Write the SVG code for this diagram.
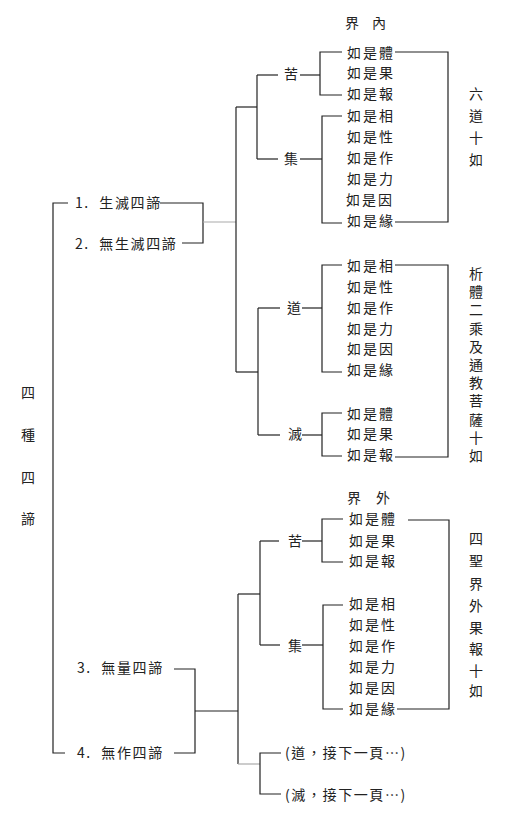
<svg xmlns="http://www.w3.org/2000/svg" width="516" height="822" viewBox="0 0 516 822">
<style>
text{font-family:"Noto Sans CJK TC","Noto Sans CJK SC",sans-serif;font-size:14px;fill:#222;dominant-baseline:central}
.e{letter-spacing:2px}
.l{letter-spacing:1.6px}
.v{text-anchor:middle}
.s{font-size:12.4px}
.c line,.c polyline{stroke:#222;stroke-width:1.2;fill:none}
.c .f{stroke:#aaa}
</style>
<rect width="516" height="822" fill="#fff"/>
<g id="title">
<text class="v" x="28" y="392">四</text>
<text class="v" x="28" y="434">種</text>
<text class="v" x="28" y="477">四</text>
<text class="v" x="28" y="518">諦</text>
</g>
<g id="n1"><text class="l" x="75" y="202" xml:space="preserve">1.  生滅四諦</text></g>
<g id="n2"><text class="l" x="75" y="243" xml:space="preserve">2.  無生滅四諦</text></g>
<g id="n3"><text class="l" x="77" y="667" xml:space="preserve">3.  無量四諦</text></g>
<g id="n4"><text class="l" x="77" y="752" xml:space="preserve">4.  無作四諦</text></g>

<g id="jienei"><text y="22"><tspan x="345">界</tspan><tspan x="372">內</tspan></text></g>
<g id="ku1"><text x="284" y="73">苦</text></g>
<g id="ji1"><text x="284" y="158">集</text></g>
<g id="dao1"><text x="287" y="307">道</text></g>
<g id="mie1"><text x="288" y="433">滅</text></g>
<g id="top-items" class="e">
<text x="347" y="52">如是體</text>
<text x="347" y="72">如是果</text>
<text x="347" y="93">如是報</text>
<text x="347" y="115">如是相</text>
<text x="347" y="136">如是性</text>
<text x="347" y="157">如是作</text>
<text x="347" y="178">如是力</text>
<text x="346" y="199">如是因</text>
<text x="347" y="220">如是緣</text>
</g>
<g id="mid-items" class="e">
<text x="347" y="265">如是相</text>
<text x="347" y="286">如是性</text>
<text x="347" y="307">如是作</text>
<text x="347" y="328">如是力</text>
<text x="347" y="348">如是因</text>
<text x="347" y="369">如是緣</text>
<text x="347" y="413">如是體</text>
<text x="347" y="433">如是果</text>
<text x="347" y="454">如是報</text>
</g>
<g id="liudao">
<text class="v" x="476" y="93">六</text>
<text class="v" x="476" y="115">道</text>
<text class="v" x="476" y="137">十</text>
<text class="v" x="476" y="159">如</text>
</g>
<g id="xiti" class="s">
<text class="v" x="476" y="273">析</text>
<text class="v" x="476" y="291.2">體</text>
<text class="v" x="476" y="309.4">二</text>
<text class="v" x="476" y="327.6">乘</text>
<text class="v" x="476" y="345.8">及</text>
<text class="v" x="476" y="364">通</text>
<text class="v" x="476" y="382.2">教</text>
<text class="v" x="476" y="400.4">菩</text>
<text class="v" x="476" y="418.6">薩</text>
<text class="v" x="476" y="436.8">十</text>
<text class="v" x="476" y="455">如</text>
</g>

<g id="jiewai"><text y="497"><tspan x="347">界</tspan><tspan x="376">外</tspan></text></g>
<g id="ku2"><text x="288" y="540">苦</text></g>
<g id="ji2"><text x="288" y="645">集</text></g>
<g id="bot-items" class="e">
<text x="349" y="518">如是體</text>
<text x="349" y="540">如是果</text>
<text x="349" y="560">如是報</text>
<text x="349" y="603">如是相</text>
<text x="349" y="624">如是性</text>
<text x="349" y="645">如是作</text>
<text x="349" y="666">如是力</text>
<text x="349" y="687">如是因</text>
<text x="349" y="708">如是緣</text>
</g>
<g id="sisheng">
<text class="v" x="476" y="538">四</text>
<text class="v" x="476" y="560">聖</text>
<text class="v" x="476" y="583">界</text>
<text class="v" x="476" y="605">外</text>
<text class="v" x="476" y="627">果</text>
<text class="v" x="476" y="648">報</text>
<text class="v" x="476" y="670">十</text>
<text class="v" x="476" y="690">如</text>
</g>
<g id="dao2"><text class="l" x="285" y="752" xml:space="preserve">(道，接下一頁…)</text></g>
<g id="mie2"><text class="l" x="285" y="794" xml:space="preserve">(滅，接下一頁…)</text></g>

<g id="connectors" class="c">
<polyline points="68,203 53,203 53,753 65,753"/>
<polyline points="160,203 203,203 203,243 182,243"/>
<line class="f" x1="203" y1="222" x2="236" y2="222"/>
<line x1="236" y1="107" x2="236" y2="372"/>
<line x1="236" y1="107" x2="257" y2="107"/>
<line x1="257" y1="75" x2="257" y2="159"/>
<line x1="257" y1="75" x2="278" y2="75"/>
<line x1="300" y1="75" x2="320" y2="75"/>
<polyline points="342,52 320,52 320,95 342,95"/>
<line x1="257" y1="159" x2="278" y2="159"/>
<line x1="300" y1="159" x2="322" y2="159"/>
<polyline points="342,116 322,116 322,223 342,223"/>
<polyline points="395,52 448,52 448,222 395,222"/>
<line x1="236" y1="372" x2="258" y2="372"/>
<line x1="258" y1="308" x2="258" y2="435"/>
<line x1="258" y1="308" x2="280" y2="308"/>
<line x1="302" y1="308" x2="322" y2="308"/>
<polyline points="342,265 322,265 322,372 342,372"/>
<line x1="258" y1="435" x2="280" y2="435"/>
<line x1="302" y1="435" x2="322" y2="435"/>
<polyline points="342,413 322,413 322,456 342,456"/>
<polyline points="395,265 448,265 448,457 395,457"/>
<polyline points="174,669 195,669 195,753 174,753"/>
<line x1="195" y1="711" x2="238" y2="711"/>
<line x1="238" y1="594" x2="238" y2="764"/>
<line x1="238" y1="594" x2="260" y2="594"/>
<line x1="260" y1="541" x2="260" y2="645"/>
<line x1="260" y1="541" x2="279" y2="541"/>
<line x1="302" y1="541" x2="322" y2="541"/>
<polyline points="343,519 322,519 322,562 343,562"/>
<line x1="260" y1="645" x2="280" y2="645"/>
<line x1="302" y1="645" x2="323" y2="645"/>
<polyline points="343,605 323,605 323,709 343,709"/>
<polyline points="408,520 449,520 449,709 397,709"/>
<line class="f" x1="238" y1="764" x2="260" y2="764"/>
<polyline points="281,753 260,753 260,794 281,794"/>
</g>
</svg>
